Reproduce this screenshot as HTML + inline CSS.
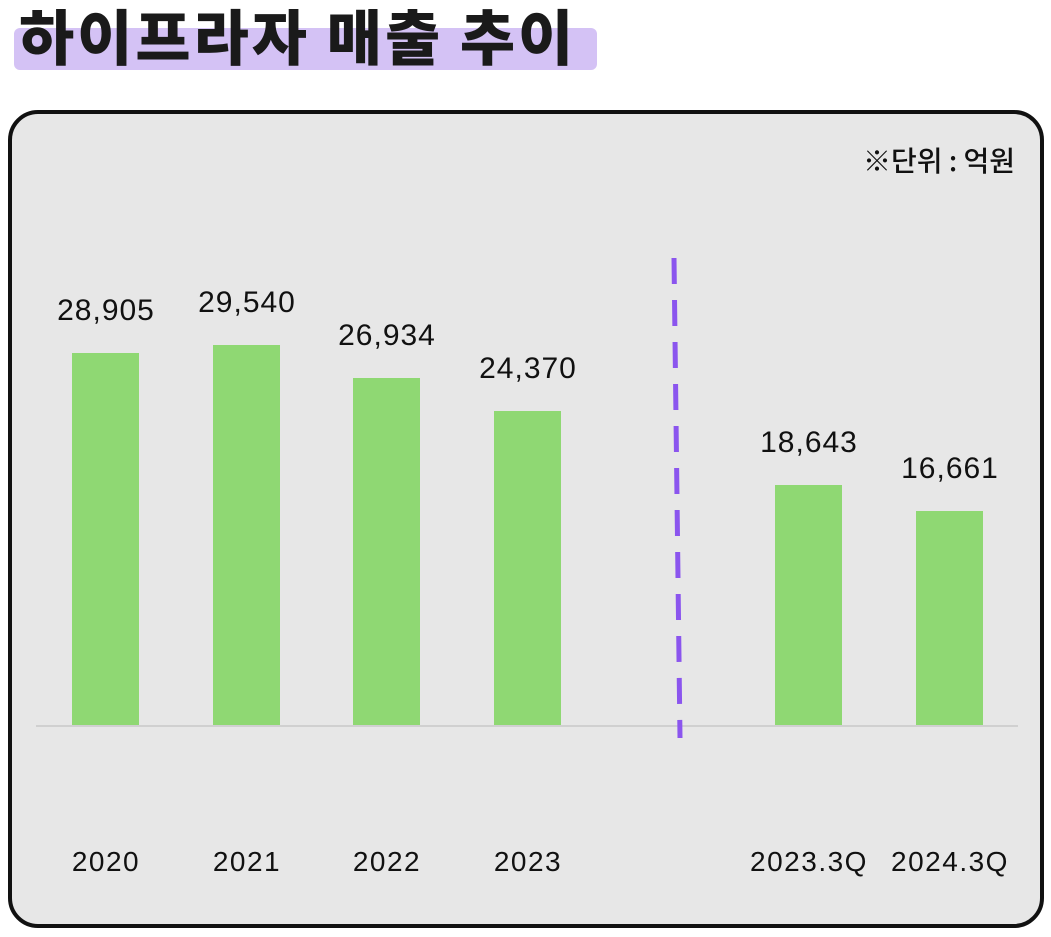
<!DOCTYPE html>
<html><head><meta charset="utf-8"><style>
body{margin:0;width:1051px;height:937px;background:#fff;overflow:hidden;font-family:"Liberation Sans","Noto Sans CJK KR",sans-serif;position:relative}
.hl{position:absolute;left:14px;top:28px;width:583px;height:42px;background:#d4c2f5;border-radius:6px}
.title{position:absolute;left:19px;top:-10px;font-family:"Noto Sans CJK KR",sans-serif;font-weight:900;font-size:60px;letter-spacing:3px;color:#1a1a1a;white-space:nowrap;line-height:90px}
.box{position:absolute;left:8px;top:110px;width:1028px;height:810px;border:4px solid #111;border-radius:30px;background:#e7e7e7}
.t{position:absolute;text-align:center;color:#111;white-space:nowrap}
.v{font-size:30px;letter-spacing:1px}
.y{font-size:28px;letter-spacing:1.5px}
</style></head><body>
<div class="hl"></div>
<div class="title">하이프라자 매출 추이</div>
<div class="box"></div>
<svg style="position:absolute;left:0;top:0" width="1051" height="937">
<line x1="36" y1="726" x2="1018" y2="726" stroke="#d0d0d0" stroke-width="2"/>
<g fill="#8fd873">
<rect x="72" y="353" width="67" height="372"/>
<rect x="213" y="345" width="67" height="380"/>
<rect x="353" y="378" width="67" height="347"/>
<rect x="494" y="411" width="67" height="314"/>
<rect x="775" y="485" width="67" height="240"/>
<rect x="916" y="511" width="67" height="214"/>
</g>
<line x1="674" y1="258" x2="680" y2="738" stroke="#8b55ee" stroke-width="5" stroke-dasharray="26,16"/>
</svg>
<div class="t" style="right:36px;top:142px;font-size:28px;font-family:'Noto Sans CJK KR',sans-serif;font-weight:500;line-height:36px">※단위 : 억원</div>
<div class="t v" style="left:51px;width:110px;top:294px">28,905</div>
<div class="t v" style="left:192px;width:110px;top:286px">29,540</div>
<div class="t v" style="left:332px;width:110px;top:319px">26,934</div>
<div class="t v" style="left:473px;width:110px;top:352px">24,370</div>
<div class="t v" style="left:754px;width:110px;top:426px">18,643</div>
<div class="t v" style="left:895px;width:110px;top:452px">16,661</div>
<div class="t y" style="left:56px;width:100px;top:846px">2020</div>
<div class="t y" style="left:197px;width:100px;top:846px">2021</div>
<div class="t y" style="left:337px;width:100px;top:846px">2022</div>
<div class="t y" style="left:478px;width:100px;top:846px">2023</div>
<div class="t y" style="left:734px;width:150px;top:846px">2023.3Q</div>
<div class="t y" style="left:875px;width:150px;top:846px">2024.3Q</div>
</body></html>
